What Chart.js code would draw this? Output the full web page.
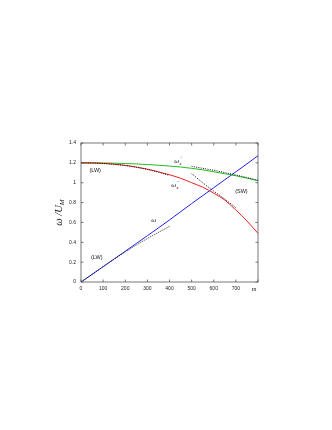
<!DOCTYPE html>
<html>
<head>
<meta charset="utf-8">
<script src="https://cdn.jsdelivr.net/npm/chart.js@4.4.0/dist/chart.umd.min.js"></script>
<style>
  html, body { margin: 0; padding: 0; background: #fff; }
  #wrap { position: relative; width: 332px; height: 430px; }
</style>
</head>
<body>
<div id="wrap"><canvas id="dispChart"></canvas></div>
<script>
// wavenumber m for the full curves
const mFull = [0, 50, 100, 150, 200, 250, 300, 350, 400, 450, 500, 550, 600, 650, 700, 750, 800];
// omega (blue), omega_x^+ (green), omega_x^- (red)
const omegaVals = [0, 0.077, 0.155, 0.232, 0.31, 0.388, 0.466, 0.545, 0.625, 0.707, 0.79, 0.87, 0.95, 1.03, 1.11, 1.19, 1.272];
const omegaPlusVals = [1.2, 1.2, 1.199, 1.197, 1.193, 1.189, 1.183, 1.176, 1.168, 1.158, 1.145, 1.13, 1.11, 1.09, 1.07, 1.046, 1.02];
const omegaMinusVals = [1.2, 1.199, 1.195, 1.187, 1.175, 1.158, 1.137, 1.11, 1.08, 1.045, 1.0, 0.955, 0.895, 0.825, 0.725, 0.615, 0.49];

// long-wave approximations (dotted)
const mLW = [0, 50, 100, 150, 200, 250, 300, 350, 400];
const omegaLW = [0, 0.077, 0.154, 0.23, 0.303, 0.372, 0.438, 0.5, 0.56];
const omegaMinusLW = [1.2, 1.198, 1.193, 1.184, 1.172, 1.155, 1.133, 1.106, 1.073];

// short-wave approximations (dotted)
const mSWPlus = [500, 550, 600, 650, 700, 750, 800];
const omegaPlusSW = [1.165, 1.145, 1.125, 1.102, 1.078, 1.052, 1.025];
const mSWMinus = [500, 550, 600, 650, 700];
const omegaMinusSW = [1.09, 1.0, 0.915, 0.835, 0.748];

const yTicks = [0, 0.2, 0.4, 0.6, 0.8, 1, 1.2, 1.4];
const xTicks = [0, 100, 200, 300, 400, 500, 600, 700, 800];

// annotations in data coordinates
const notes = [
  { text: "(LW)", m: 64, v: 1.12, kind: "regime" },
  { text: "(LW)", m: 71, v: 0.25, kind: "regime" },
  { text: "(SW)", m: 725, v: 0.907, kind: "regime" },
  { text: "ω", m: 329, v: 0.624, kind: "omega" },
  { text: "ω", sub: "x", sup: "−", m: 419, v: 0.978, kind: "omega" },
  { text: "ω", sub: "x", sup: "+", m: 433, v: 1.22, kind: "omega" }
];

function pts(xs, ys) {
  return xs.map((x, i) => ({ x: x, y: ys[i] }));
}

const solid = { borderWidth: 1, pointRadius: 0, fill: false, cubicInterpolationMode: "monotone" };
const dotted = { borderWidth: 1, pointRadius: 0, fill: false, borderDash: [1, 1.3], borderColor: "#111", cubicInterpolationMode: "monotone" };

// inward ticks, frame and text labels
const framePlugin = {
  id: "framePlugin",
  afterDatasetsDraw(chart) {
    const ctx = chart.ctx;
    const a = chart.chartArea;
    const xs = chart.scales.x;
    const ys = chart.scales.y;
    ctx.save();
    ctx.strokeStyle = "#555";
    ctx.lineWidth = 0.8;
    ctx.strokeRect(a.left, a.top, a.right - a.left, a.bottom - a.top);
    const len = 2.5;
    ctx.beginPath();
    xTicks.forEach((t) => {
      const px = xs.getPixelForValue(t);
      ctx.moveTo(px, a.bottom); ctx.lineTo(px, a.bottom - len);
      ctx.moveTo(px, a.top); ctx.lineTo(px, a.top + len);
    });
    yTicks.forEach((t) => {
      const py = ys.getPixelForValue(t);
      ctx.moveTo(a.left, py); ctx.lineTo(a.left + len, py);
      ctx.moveTo(a.right, py); ctx.lineTo(a.right - len, py);
    });
    ctx.stroke();

    ctx.fillStyle = "#111";
    ctx.textBaseline = "middle";
    ctx.textAlign = "center";
    notes.forEach((n) => {
      const px = xs.getPixelForValue(n.m);
      const py = ys.getPixelForValue(n.v);
      if (n.kind === "regime") {
        ctx.font = "5.5px 'Liberation Sans', sans-serif";
        ctx.fillText(n.text, px, py);
      } else {
        ctx.font = "italic 7px 'Liberation Serif', serif";
        ctx.textAlign = "left";
        const w = ctx.measureText(n.text).width;
        ctx.fillText(n.text, px - w / 2, py);
        if (n.sub) {
          ctx.font = "italic 4.5px 'Liberation Serif', serif";
          ctx.fillText(n.sup, px + w / 2 + 0.3, py - 3);
          ctx.fillText(n.sub, px + w / 2 + 0.3, py + 2.5);
        }
        ctx.textAlign = "center";
      }
    });

    // x axis name sits in place of the last tick label
    ctx.font = "italic 6.5px 'Liberation Serif', serif";
    ctx.textBaseline = "top";
    ctx.fillText("m", xs.getPixelForValue(800) - 4, a.bottom + 4);

    // y axis title: omega / U_M
    ctx.textBaseline = "middle";
    ctx.translate(a.left - 22, (a.top + a.bottom) / 2);
    ctx.rotate(-Math.PI / 2);
    ctx.textAlign = "left";
    ctx.font = "italic 10.5px 'Liberation Serif', serif";
    const t1 = "ω /U";
    const w1 = ctx.measureText(t1).width;
    ctx.font = "italic 7px 'Liberation Serif', serif";
    const w2 = ctx.measureText("M").width;
    const x0 = -(w1 + w2) / 2;
    ctx.font = "italic 10.5px 'Liberation Serif', serif";
    ctx.fillText(t1, x0, 0);
    ctx.font = "italic 7px 'Liberation Serif', serif";
    ctx.fillText("M", x0 + w1, 3);
    ctx.restore();
  }
};

new Chart(document.getElementById("dispChart"), {
  type: "line",
  data: {
    datasets: [
      { ...dotted, data: pts(mLW, omegaLW) },
      { ...dotted, data: pts(mLW, omegaMinusLW) },
      { ...dotted, data: pts(mSWPlus, omegaPlusSW) },
      { ...dotted, data: pts(mSWMinus, omegaMinusSW) },
      { ...solid, borderColor: "#ee2020", data: pts(mFull, omegaMinusVals) },
      { ...solid, borderColor: "#22bb22", data: pts(mFull, omegaPlusVals) },
      { ...solid, borderColor: "#2020ee", data: pts(mFull, omegaVals) }
    ]
  },
  options: {
    responsive: true,
    maintainAspectRatio: false,
    animation: false,
    events: [],
    layout: { padding: { left: 0, top: 143, right: 74, bottom: 136 } },
    plugins: { legend: { display: false }, tooltip: { enabled: false } },
    scales: {
      x: {
        type: "linear",
        min: 0,
        max: 800,
        afterFit: (s) => { s.height = 12; },
        afterBuildTicks: (s) => { s.ticks = xTicks.map((v) => ({ value: v })); },
        grid: { display: false, drawTicks: false },
        border: { display: false },
        ticks: {
          padding: 4,
          color: "#222",
          maxRotation: 0,
          font: { family: "'Liberation Sans', sans-serif", size: 5 },
          callback: (v) => (v === 800 ? "" : String(v))
        }
      },
      y: {
        min: 0,
        max: 1.4,
        afterFit: (s) => { s.width = 81; },
        afterBuildTicks: (s) => { s.ticks = yTicks.map((v) => ({ value: v })); },
        grid: { display: false, drawTicks: false },
        border: { display: false },
        ticks: {
          padding: 5,
          color: "#222",
          font: { family: "'Liberation Sans', sans-serif", size: 5 },
          callback: (v) => String(v)
        }
      }
    }
  },
  plugins: [framePlugin]
});
</script>
</body>
</html>
